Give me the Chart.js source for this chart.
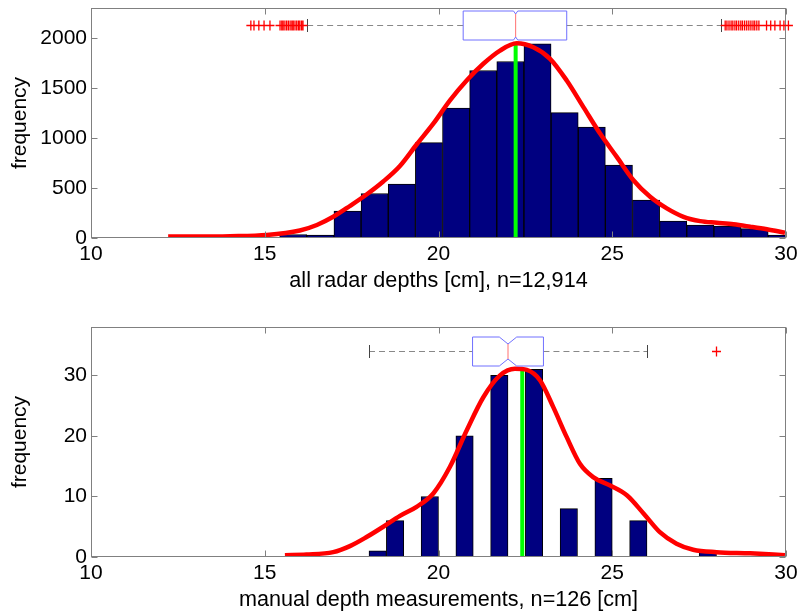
<!DOCTYPE html>
<html><head><meta charset="utf-8">
<script src="https://cdn.jsdelivr.net/npm/chart.js@4/dist/chart.umd.min.js"></script>
<style>
html,body{margin:0;padding:0;background:#fff;overflow:hidden;width:797px;height:613px}
.wrap{position:absolute;left:0;width:797px}
</style>
</head><body>
<div class="wrap" style="top:0;height:300px"><canvas id="c1"></canvas></div>
<div class="wrap" style="top:300px;height:313px"><canvas id="c2"></canvas></div>
<script>
// ---------- shared ticks ----------
const xTickValues = [10, 15, 20, 25, 30];

// ---------- top panel: all radar depths ----------
const radarBinCenters = [15.039, 15.820, 16.601, 17.382, 18.163, 18.944, 19.725, 20.506, 21.287, 22.068, 22.849, 23.630, 24.411, 25.192, 25.973, 26.754, 27.535, 28.316, 29.097, 29.878];
const radarCounts     = [5, 35, 30, 269, 445, 540, 954, 1299, 1675, 1765, 1941, 1253, 1110, 728, 379, 169, 130, 120, 93, 30];
const radarKdeX = [12.22, 13.0, 14.0, 15.06, 16.01, 16.5, 16.97, 17.45, 17.93, 18.41, 18.89, 19.37, 19.85, 20.33, 20.81, 21.29, 21.77, 22.25, 22.73, 23.21, 23.69, 24.17, 24.65, 25.13, 25.61, 26.09, 26.57, 27.05, 27.53, 28.01, 28.49, 28.97, 29.45, 29.97];
const radarKdeY = [15, 15, 18, 30, 75, 130, 212, 320, 435, 565, 720, 935, 1143, 1376, 1575, 1742, 1874, 1947, 1907, 1792, 1575, 1309, 1044, 811, 578, 412, 296, 212, 169, 153, 137, 113, 87, 53];
const radarMedianLine = [22.22, 1947];              // x position, top of green line
const radarBoxStats = [16.22, 20.71, 22.22, 23.69, 28.13]; // whisker low, q1, median, q3, whisker high
const radarNotch = [22.16, 22.28];
const radarBoxLevel = 2128;
const radarOutliers = [14.60, 14.69, 14.83, 14.98, 15.15, 15.44, 15.49, 15.53, 15.58, 15.63, 15.68, 15.73, 15.78, 15.82, 15.87, 15.92, 15.97, 16.01, 16.06, 16.10,
  28.25, 28.30, 28.36, 28.42, 28.47, 28.53, 28.58, 28.64, 28.70, 28.75, 28.81, 28.87, 28.93, 28.99, 29.05, 29.10, 29.16, 29.22, 29.44, 29.56, 29.68, 29.83, 29.94, 30.07];
const radarYTicks = [0, 500, 1000, 1500, 2000];

// ---------- bottom panel: manual depth measurements ----------
const manualBinCenters = [18.25, 18.75, 19.25, 19.75, 20.25, 20.75, 21.25, 21.75, 22.25, 22.75, 23.25, 23.75, 24.25, 24.75, 25.25, 25.75, 26.25, 26.75, 27.25, 27.75];
const manualCounts     = [1, 6, 0, 10, 0, 20, 0, 30, 0, 31, 0, 8, 0, 13, 0, 6, 0, 0, 0, 1];
const manualKdeX = [15.58, 16.2, 16.97, 17.45, 17.93, 18.41, 18.89, 19.37, 19.85, 20.33, 20.81, 21.29, 21.77, 22.2, 22.54, 22.92, 23.30, 23.69, 24.07, 24.45, 24.94, 25.42, 25.9, 26.37, 26.85, 27.33, 28.0, 28.97, 29.97];
const manualKdeY = [0.3, 0.4, 0.8, 1.8, 3.3, 5.0, 6.8, 8.3, 10.5, 14.9, 20.9, 26.4, 30.0, 31.1, 30.9, 29.2, 24.8, 19.8, 15.4, 13.2, 11.8, 10.2, 7.2, 4.1, 2.2, 1.2, 0.8, 0.6, 0.3];
const manualMedianLine = [22.41, 31];
const manualBoxStats = [18.0, 20.98, 22.0, 23.02, 26.0];
const manualNotch = [21.75, 22.25];
const manualBoxLevel = 34.1;
const manualOutliers = [28.0];
const manualYTicks = [0, 10, 20, 30];

const FONT = "'Liberation Sans', Arial, Helvetica, sans-serif";

function boxPlugin(stats, notch, level, outliers, notchInset) {
  return {
    id: 'frameAndBox',
    afterDatasetsDraw(chart) {
      const ctx = chart.ctx, a = chart.chartArea;
      const xs = chart.scales.x, ys = chart.scales.y;
      ctx.save();
      // axes frame
      ctx.strokeStyle = '#808080';
      ctx.lineWidth = 1;
      ctx.setLineDash([]);
      const L = Math.round(a.left) + 0.5, R = Math.round(a.right) - 0.5, T = Math.round(a.top) + 0.5, B = Math.round(a.bottom) - 0.5;
      ctx.strokeRect(L, T, R - L, B - T);
      // inward tick marks
      const tl = 6;
      ctx.beginPath();
      xs.ticks.forEach(t => {
        const px = Math.round(xs.getPixelForValue(t.value)) + 0.5;
        ctx.moveTo(px, B); ctx.lineTo(px, B - tl);
        ctx.moveTo(px, T); ctx.lineTo(px, T + tl);
      });
      ys.ticks.forEach(t => {
        const py = Math.round(ys.getPixelForValue(t.value)) + 0.5;
        ctx.moveTo(L, py); ctx.lineTo(L + tl, py);
        ctx.moveTo(R, py); ctx.lineTo(R - tl, py);
      });
      ctx.stroke();

      // boxplot
      const [wLo, q1, med, q3, wHi] = stats.map(v => xs.getPixelForValue(v));
      const nLo = xs.getPixelForValue(notch[0]), nHi = xs.getPixelForValue(notch[1]);
      const yc = Math.round(ys.getPixelForValue(level)) + 0.5;
      const hh = 14.5;
      const top = yc - hh, bot = yc + hh;
      // whiskers
      ctx.strokeStyle = '#888';
      ctx.setLineDash([6, 4]);
      ctx.beginPath();
      ctx.moveTo(wLo, yc); ctx.lineTo(q1, yc);
      ctx.moveTo(q3, yc); ctx.lineTo(wHi, yc);
      ctx.stroke();
      ctx.setLineDash([]);
      ctx.strokeStyle = '#444';
      ctx.beginPath();
      ctx.moveTo(Math.round(wLo) + 0.5, yc - 6.5); ctx.lineTo(Math.round(wLo) + 0.5, yc + 6.5);
      ctx.moveTo(Math.round(wHi) + 0.5, yc - 6.5); ctx.lineTo(Math.round(wHi) + 0.5, yc + 6.5);
      ctx.stroke();
      // notched box
      ctx.strokeStyle = '#7070ff';
      ctx.beginPath();
      ctx.moveTo(q1, top); ctx.lineTo(nLo, top); ctx.lineTo(med, top + notchInset); ctx.lineTo(nHi, top); ctx.lineTo(q3, top);
      ctx.lineTo(q3, bot); ctx.lineTo(nHi, bot); ctx.lineTo(med, bot - notchInset); ctx.lineTo(nLo, bot); ctx.lineTo(q1, bot);
      ctx.closePath();
      ctx.stroke();
      // median
      ctx.strokeStyle = '#ff7070';
      ctx.beginPath();
      ctx.moveTo(med, top + notchInset); ctx.lineTo(med, bot - notchInset);
      ctx.stroke();
      // outliers
      ctx.strokeStyle = '#ff0000';
      ctx.lineWidth = 1.3;
      ctx.beginPath();
      outliers.forEach(v => {
        const px = xs.getPixelForValue(v);
        ctx.moveTo(px - 4.5, yc); ctx.lineTo(px + 4.5, yc);
        ctx.moveTo(px, yc - 5); ctx.lineTo(px, yc + 5);
      });
      ctx.stroke();
      ctx.restore();
    }
  };
}

function makeChart(id, cfg) {
  const bars = cfg.centers.map((x, i) => ({ x: x, y: cfg.counts[i] }));
  const kde = cfg.kdeX.map((x, i) => ({ x: x, y: cfg.kdeY[i] }));
  const median = [{ x: cfg.medianLine[0], y: 0 }, { x: cfg.medianLine[0], y: cfg.medianLine[1] }];
  return new Chart(document.getElementById(id), {
    data: {
      datasets: [
        { type: 'line', data: kde, borderColor: '#ff0000', borderWidth: 4.5, pointRadius: 0, fill: false, cubicInterpolationMode: 'monotone', order: 1 },
        { type: 'line', data: median, borderColor: '#00ff00', borderWidth: 4, pointRadius: 0, fill: false, order: 2 },
        { type: 'bar', data: bars, backgroundColor: '#000080', borderColor: '#000000',
          borderWidth: { top: 1, left: 1, right: 1, bottom: 0 }, barPercentage: 1, categoryPercentage: 1, order: 3 }
      ]
    },
    options: {
      responsive: true, maintainAspectRatio: false, animation: false,
      layout: { padding: { left: 0, right: 11, top: cfg.padTop, bottom: 0 } },
      plugins: { legend: { display: false }, tooltip: { enabled: false } },
      scales: {
        x: {
          type: 'linear', min: 10, max: 30, offset: false,
          afterBuildTicks: s => { s.ticks = xTickValues.map(v => ({ value: v })); },
          afterFit: s => { s.height = cfg.xHeight; s.paddingLeft = 0; s.paddingRight = 0; },
          grid: { display: false, drawTicks: false, offset: false },
          border: { display: false },
          ticks: { color: '#000', font: { family: FONT, size: 21 }, padding: 4, maxRotation: 0, autoSkip: false, callback: v => String(v) },
          title: { display: true, text: cfg.xTitle, color: '#000', font: { family: FONT, size: 21.6 }, padding: { top: 0, bottom: cfg.titlePadBottom } }
        },
        y: {
          type: 'linear', min: 0, max: cfg.yMax,
          afterBuildTicks: s => { s.ticks = cfg.yTicks.map(v => ({ value: v })); },
          afterFit: s => { s.width = 91; s.paddingTop = 0; s.paddingBottom = 0; },
          grid: { display: false, drawTicks: false },
          border: { display: false },
          ticks: { color: '#000', font: { family: FONT, size: 21 }, padding: 4, autoSkip: false, callback: v => String(v) },
          title: { display: true, text: 'frequency', color: '#000', font: { family: FONT, size: 21 }, padding: { top: 8, bottom: 0 } }
        }
      }
    },
    plugins: [boxPlugin(cfg.boxStats, cfg.notch, cfg.boxLevel, cfg.outliers, cfg.notchInset)]
  });
}

makeChart('c1', {
  centers: radarBinCenters, counts: radarCounts, kdeX: radarKdeX, kdeY: radarKdeY,
  medianLine: radarMedianLine, boxStats: radarBoxStats, notch: radarNotch, boxLevel: radarBoxLevel,
  outliers: radarOutliers, yTicks: radarYTicks, yMax: 2300, notchInset: 3,
  xTitle: 'all radar depths [cm], n=12,914', padTop: 8, xHeight: 62, titlePadBottom: 6
});
makeChart('c2', {
  centers: manualBinCenters, counts: manualCounts, kdeX: manualKdeX, kdeY: manualKdeY,
  medianLine: manualMedianLine, boxStats: manualBoxStats, notch: manualNotch, boxLevel: manualBoxLevel,
  outliers: manualOutliers, yTicks: manualYTicks, yMax: 38, notchInset: 7,
  xTitle: 'manual depth measurements, n=126 [cm]', padTop: 27, xHeight: 56, titlePadBottom: 0
});
</script>
</body></html>
